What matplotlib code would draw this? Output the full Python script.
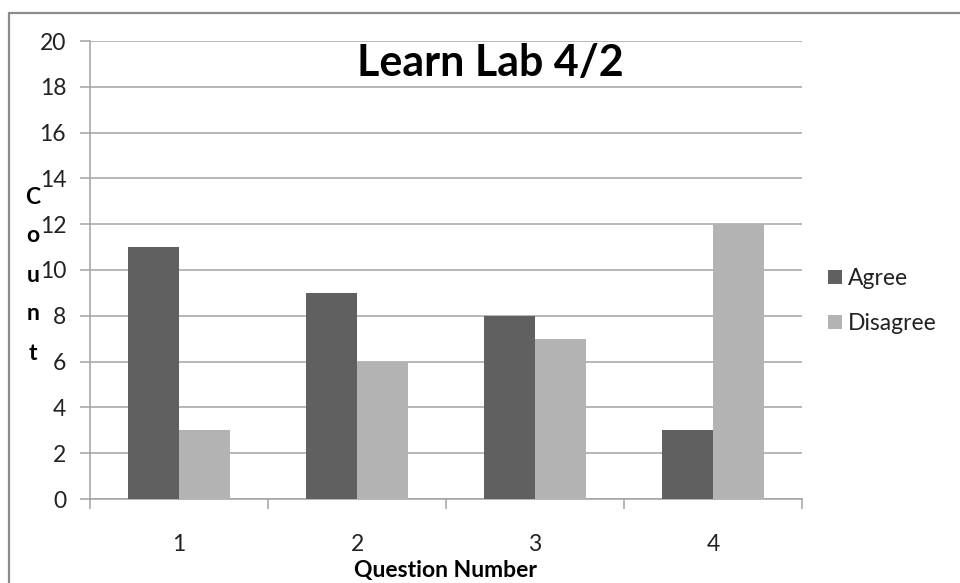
import matplotlib
matplotlib.use("Agg")
import matplotlib.pyplot as plt
from matplotlib.patches import Rectangle
import numpy as np

plt.rcParams['font.family'] = ['Lato', 'DejaVu Sans']

categories = ["1", "2", "3", "4"]
agree = [11, 9, 8, 3]
disagree = [3, 6, 7, 12]
series_names = ["Agree", "Disagree"]
yticks = [0, 2, 4, 6, 8, 10, 12, 14, 16, 18, 20]

W, H = 960, 583
FS = 16.5
fig = plt.figure(figsize=(W / 100, H / 100), dpi=100)
fig.patch.set_facecolor("white")

# outer chart border (clipped at right/bottom like the reference)
fig.patches.append(Rectangle((9 / W, -0.05), 1.1, 1 - 13 / H + 0.05,
                             transform=fig.transFigure, fill=False,
                             edgecolor="#8c8c8c", linewidth=1.6, zorder=0))

ax = fig.add_axes([90 / W, 1 - 499 / H, (802 - 90) / W, (499 - 41) / H])
x = np.arange(len(categories))
bw = 0.2865
ax.bar(x - bw / 2, agree, width=bw, color="#606060", label=series_names[0], zorder=3)
ax.bar(x + bw / 2, disagree, width=bw, color="#b3b3b3", label=series_names[1], zorder=3)

ax.set_xlim(-0.5, len(categories) - 0.5)
ax.set_ylim(0, 20)
ax.set_yticks(yticks)
ax.set_yticklabels([str(v) for v in yticks])
ax.yaxis.grid(True, color="#a3a3a3", linewidth=1.1, zorder=0)
ax.set_axisbelow(True)

ax.set_xticks(np.arange(len(categories) + 1) - 0.5)
ax.set_xticklabels([])
ax.set_xticks(x, minor=True)
ax.set_xticklabels(categories, minor=True)
ax.tick_params(axis="x", which="major", length=7.2, width=1.1, color="#a3a3a3", direction="out")
ax.tick_params(axis="x", which="minor", length=0, pad=25, labelsize=FS, labelcolor="#222222")
ax.tick_params(axis="y", length=7.2, width=1.1, color="#a3a3a3", pad=10,
               labelsize=FS, labelcolor="#222222")

for s in ["top", "right"]:
    ax.spines[s].set_visible(False)
for s in ["left", "bottom"]:
    ax.spines[s].set_color("#a3a3a3")
    ax.spines[s].set_linewidth(1.1)

fig.text(490 / W, 1 - 63 / H, "Learn Lab 4/2", ha="center", va="center",
         fontsize=31, fontweight="bold", color="black")
fig.text(445 / W, 1 - 570 / H, "Question Number", ha="center", va="center",
         fontsize=FS, fontweight="bold", color="black")

ylabel = "Count"
for i, ch in enumerate(ylabel):
    fig.text(33 / W, 1 - (197 + 39 * i) / H, ch, ha="center", va="center",
             fontsize=FS, fontweight="bold", color="black")

leg = fig.legend(loc="center left", bbox_to_anchor=(828 / W, 1 - 301 / H),
                 frameon=False, fontsize=FS, handlelength=0.6, handleheight=0.6,
                 handletextpad=0.25, labelspacing=1.05, borderaxespad=0, borderpad=0)
for t in leg.get_texts():
    t.set_color("#222222")

fig.savefig("out.png", dpi=100)
